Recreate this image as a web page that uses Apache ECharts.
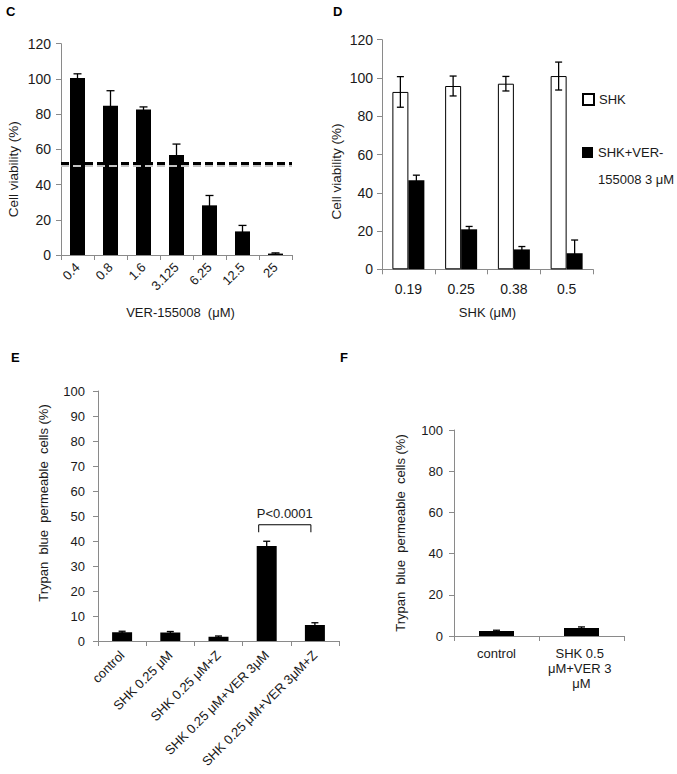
<!DOCTYPE html>
<html>
<head>
<meta charset="utf-8">
<script src="https://cdn.jsdelivr.net/npm/echarts@6/dist/echarts.min.js"></script>
<style>
html,body{margin:0;padding:0;background:#fff;}
#chart{width:677px;height:774px;}
</style>
</head>
<body>
<div id="chart"></div>
<script>
// ---------- Panel C ----------
const cCategories = ['0.4', '0.8', '1.6', '3.125', '6.25', '12.5', '25'];
const cValues = [100.5, 84.8, 82.6, 56.8, 28.2, 13.4, 0.8];
const cErrors = [2.4, 8.5, 1.5, 6.2, 5.6, 3.4, 0.4];
const cHalfLine = 52;
const cHalfShadow = 50.8;

// ---------- Panel D ----------
const dCategories = ['0.19', '0.25', '0.38', '0.5'];
const dShk = [92.7, 95.8, 97.0, 101.0];
const dShkErrors = [8.0, 5.2, 3.8, 7.3];
const dCombo = [46.6, 20.9, 10.4, 8.4];
const dComboErrors = [2.6, 1.5, 1.5, 6.9];
const dSeriesNames = ['SHK', 'SHK+VER-155008 3 μM'];

// ---------- Panel E ----------
const eCategories = ['control', 'SHK 0.25 μM', 'SHK 0.25 μM+Z', 'SHK 0.25 μM+VER 3μM', 'SHK 0.25 μM+VER 3μM+Z'];
const eValues = [3.5, 3.4, 1.7, 38.0, 6.4];
const eErrors = [0.4, 0.4, 0.3, 1.9, 0.9];
const eBracketCats = [3, 4];
const eBracketY = [46.5, 43.5];
const ePText = 'P<0.0001';

// ---------- Panel F ----------
const fCategories = ['control', 'SHK 0.5 μM+VER 3 μM'];
const fValues = [2.4, 3.9];
const fErrors = [0.4, 0.5];

const FONT = 'Liberation Sans, Arial, sans-serif';
const AX = '#8a8a8a';
const TXT = '#1a1a1a';

function xCat(gridIndex, data, extra) {
  const base = {
    type: 'category', gridIndex, data,
    axisLine: { show: true, lineStyle: { color: AX, width: 1 } },
    axisTick: { show: true, length: 5, alignWithLabel: false, lineStyle: { color: AX } },
    axisLabel: { interval: 0, color: TXT, fontFamily: FONT, fontSize: 13, margin: 10 },
    splitLine: { show: false }
  };
  return Object.assign(base, extra || {}, { axisLabel: Object.assign(base.axisLabel, (extra || {}).axisLabel || {}) });
}
function yVal(gridIndex, max, interval, fontSize, margin, name, nameGap, pad, nameSize) {
  return {
    type: 'value', gridIndex, min: 0, max, interval,
    axisLine: { show: true, lineStyle: { color: AX, width: 1 } },
    axisTick: { show: true, length: 5, lineStyle: { color: AX } },
    axisLabel: { color: TXT, fontFamily: FONT, fontSize, margin },
    splitLine: { show: false },
    name, nameLocation: 'middle', nameRotate: 90, nameGap,
    nameTextStyle: { color: TXT, fontFamily: FONT, fontSize: nameSize || 13, padding: pad }
  };
}
function errBars(name, xi, yi, vals, errs, offset, capHalf) {
  return {
    type: 'custom', name, xAxisIndex: xi, yAxisIndex: yi, z: 5, silent: true,
    data: vals.map((v, i) => [i, v, errs[i]]),
    renderItem: function (params, api) {
      const i = api.value(0), v = api.value(1), e = api.value(2);
      const top = api.coord([i, v + e]);
      const bot = api.coord([i, Math.max(0, v - e)]);
      const x = top[0] + offset;
      const style = { stroke: '#000', lineWidth: 1.3 };
      return {
        type: 'group', children: [
          { type: 'line', shape: { x1: x, y1: top[1], x2: x, y2: bot[1] }, style },
          { type: 'line', shape: { x1: x - capHalf, y1: top[1], x2: x + capHalf, y2: top[1] }, style },
          { type: 'line', shape: { x1: x - capHalf, y1: bot[1], x2: x + capHalf, y2: bot[1] }, style }
        ]
      };
    }
  };
}

const chart = echarts.init(document.getElementById('chart'), null, { renderer: 'svg' });

const letterStyle = { fontSize: 13, fontWeight: 'bold', color: '#000', fontFamily: FONT };
const option = {
  backgroundColor: '#fff',
  animation: false,
  textStyle: { fontFamily: FONT },
  title: [
    { text: 'C', left: 6, top: 5, padding: 0, textStyle: letterStyle },
    { text: 'D', left: 333, top: 5, padding: 0, textStyle: letterStyle },
    { text: 'E', left: 11, top: 351, padding: 0, textStyle: letterStyle },
    { text: 'F', left: 340, top: 351, padding: 0, textStyle: letterStyle }
  ],
  legend: [
    {
      data: [dSeriesNames[0]], orient: 'vertical', left: 582, top: 93, padding: 0,
      icon: 'rect', itemWidth: 11, itemHeight: 11, selectedMode: false,
      textStyle: { color: TXT, fontFamily: FONT, fontSize: 13 }
    },
    {
      data: [dSeriesNames[1]], orient: 'vertical', left: 582, top: 112, padding: 0,
      icon: 'rect', itemWidth: 11, itemHeight: 11, selectedMode: false,
      formatter: n => '\u00a0\n' + n.replace('VER-', 'VER-\n'),
      textStyle: { color: TXT, fontFamily: FONT, fontSize: 13, lineHeight: 27 }
    }
  ],
  grid: [
    { left: 61, top: 43.7, width: 231, height: 211.3, containLabel: false, outerBoundsMode: 'none' },
    { left: 382, top: 39.7, width: 211, height: 229.6, containLabel: false, outerBoundsMode: 'none' },
    { left: 98, top: 391, width: 241, height: 250, containLabel: false, outerBoundsMode: 'none' },
    { left: 454, top: 430, width: 170, height: 206, containLabel: false, outerBoundsMode: 'none' }
  ],
  xAxis: [
    xCat(0, cCategories, { name: 'VER-155008  (μM)', nameLocation: 'middle', nameGap: 51,
      nameTextStyle: { color: TXT, fontFamily: FONT, fontSize: 13, padding: [0, 0, 0, 8] },
      axisLabel: { rotate: 45, margin: 10, fontSize: 13 } }),
    xCat(1, dCategories, { name: 'SHK (μM)', nameLocation: 'middle', nameGap: 37,
      nameTextStyle: { color: TXT, fontFamily: FONT, fontSize: 13 },
      axisLabel: { margin: 13, fontSize: 14 } }),
    xCat(2, eCategories, { axisLabel: { rotate: 45, margin: 12, fontSize: 13 } }),
    xCat(3, fCategories, { axisLabel: { margin: 10, fontSize: 13, width: 78, overflow: 'break', lineHeight: 15 } })
  ],
  yAxis: [
    yVal(0, 120, 20, 14, 10, 'Cell viability (%)', 41, [0, 40, 0, 0], 13.5),
    yVal(1, 120, 20, 14, 9, 'Cell viability (%)', 39, [0, 34, 0, 0], 13.5),
    yVal(2, 100, 10, 13, 13, 'Trypan  blue  permeable  cells (%)', 48, [0, 0, 0, 26]),
    yVal(3, 100, 20, 13, 11, 'Trypan  blue  permeable  cells (%)', 47, 0)
  ],
  series: [
    {
      type: 'bar', name: 'VER-155008', xAxisIndex: 0, yAxisIndex: 0, data: cValues, barWidth: 15,
      itemStyle: { color: '#000' }, silent: true,
      markLine: {
        silent: true, symbol: 'none', label: { show: false }, z: 6,
        data: [
          { yAxis: cHalfShadow, lineStyle: { color: '#c4c4c4', width: 3, type: [8, 4] } },
          { yAxis: cHalfLine, lineStyle: { color: '#000', width: 3, type: [8, 4] } }
        ]
      }
    },
    errBars('C err', 0, 0, cValues, cErrors, 0, 4),
    {
      type: 'bar', name: dSeriesNames[0], xAxisIndex: 1, yAxisIndex: 1, data: dShk, barWidth: 16, barGap: '0%',
      itemStyle: { color: '#fff', borderColor: '#000', borderWidth: 1 }, silent: true
    },
    {
      type: 'bar', name: dSeriesNames[1], xAxisIndex: 1, yAxisIndex: 1, data: dCombo, barWidth: 16, barGap: '0%',
      itemStyle: { color: '#000' }, silent: true
    },
    errBars('D err 1', 1, 1, dShk, dShkErrors, -8, 3.5),
    errBars('D err 2', 1, 1, dCombo, dComboErrors, 8, 3.5),
    {
      type: 'bar', name: 'Trypan E', xAxisIndex: 2, yAxisIndex: 2, data: eValues, barWidth: 20,
      itemStyle: { color: '#000' }, silent: true
    },
    errBars('E err', 2, 2, eValues, eErrors, 0, 3.5),
    {
      type: 'custom', name: 'E bracket', xAxisIndex: 2, yAxisIndex: 2, z: 6, silent: true,
      data: [[eBracketCats[0], eBracketCats[1], eBracketY[0], eBracketY[1]]],
      renderItem: function (params, api) {
        const a = api.coord([api.value(0), api.value(2)]);
        const b = api.coord([api.value(1), api.value(2)]);
        const low = api.coord([api.value(0), api.value(3)]);
        const x1 = a[0] - 8, x2 = b[0] - 4;
        return {
          type: 'group', children: [
            { type: 'polyline', shape: { points: [[x1, low[1]], [x1, a[1]], [x2, a[1]], [x2, low[1]]] },
              style: { stroke: '#000', lineWidth: 1, fill: null } },
            { type: 'text', x: (x1 + x2) / 2, y: a[1] - 5,
              style: { text: ePText, textAlign: 'center', textVerticalAlign: 'bottom', fill: TXT, font: '13px ' + FONT } }
          ]
        };
      }
    },
    {
      type: 'bar', name: 'Trypan F', xAxisIndex: 3, yAxisIndex: 3, data: fValues, barWidth: 35,
      itemStyle: { color: '#000' }, silent: true
    },
    errBars('F err', 3, 3, fValues, fErrors, 0, 3.5)
  ]
};
chart.setOption(option);
</script>
</body>
</html>
